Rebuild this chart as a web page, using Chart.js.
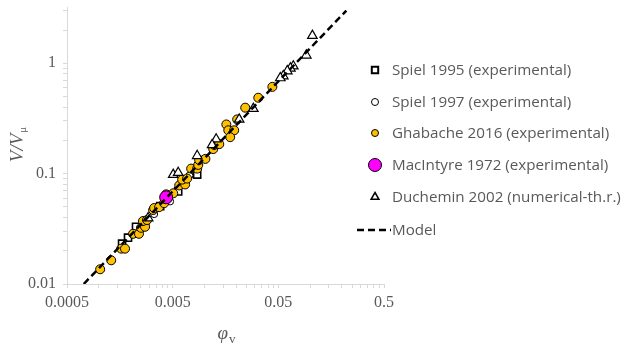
<!DOCTYPE html>
<html>
<head>
<meta charset="utf-8">
<script src="https://cdn.jsdelivr.net/npm/chart.js@4.4.1/dist/chart.umd.min.js"></script>
<style>
html, body { margin: 0; padding: 0; background: #fff; }
#wrap { width: 632px; height: 349px; position: relative; }
</style>
</head>
<body>
<div id="wrap"><canvas id="chart"></canvas></div>
<script>
"use strict";

// tick labels
var xTickLabels = [0.0005, 0.005, 0.05, 0.5];
var yTickLabels = [0.01, 0.1, 1];
var yMax = 3.2;

// Spiel 1995 (experimental)
var spiel1995Phi = [0.00166, 0.00189, 0.00225, 0.00274, 0.00381, 0.00564, 0.00853];
var spiel1995V   = [0.0232, 0.0263, 0.033, 0.0358, 0.0507, 0.069, 0.098];

// Spiel 1997 (experimental)
var spiel1997Phi = [0.00334, 0.00473, 0.0072];
var spiel1997V   = [0.043, 0.056, 0.096];

// Ghabache 2016 (experimental)
var ghabachePhi = [0.00103, 0.00131, 0.00163, 0.00177, 0.00211, 0.0024, 0.00251, 0.00274, 0.00262, 0.00286,
                   0.00327, 0.00334, 0.00372, 0.00415, 0.00434, 0.00506, 0.00577, 0.00656, 0.00615, 0.00685,
                   0.00748, 0.00853, 0.00873, 0.00891, 0.0102, 0.0121, 0.0124, 0.0138, 0.0161, 0.0168,
                   0.0191, 0.0175, 0.0204, 0.0243, 0.0323, 0.0439];
var ghabacheV   = [0.0136, 0.0164, 0.0209, 0.0209, 0.0285, 0.0285, 0.0323, 0.033, 0.0372, 0.038,
                   0.0468, 0.0488, 0.0497, 0.054, 0.0649, 0.0663, 0.0782, 0.0798, 0.0883, 0.0902,
                   0.111, 0.111, 0.12, 0.133, 0.136, 0.167, 0.182, 0.185, 0.279, 0.247,
                   0.247, 0.214, 0.31, 0.396, 0.487, 0.611];

// MacIntyre 1972 (experimental)
var macintyrePhi = [0.00434];
var macintyreV   = [0.061];

// Duchemin 2002 (numerical-th.r.)
var ducheminPhi = [0.105, 0.092, 0.0693, 0.065, 0.0608, 0.0557, 0.0522, 0.029, 0.0213, 0.0129, 0.0118,
                   0.00853, 0.00506, 0.00564, 0.00293];
var ducheminV   = [1.78, 1.18, 0.94, 0.9, 0.85, 0.766, 0.735, 0.388, 0.31, 0.205, 0.182,
                   0.145, 0.098, 0.102, 0.0396];

// Model
var modelPhi = [0.00072, 0.22];
var modelV   = [0.01, 3.0];

function toPoints(xs, ys) {
    var pts = [];
    for (var i = 0; i < xs.length; i++) {
        pts.push({ x: xs[i], y: ys[i] });
    }
    return pts;
}

function logTicks(majors, top) {
    var ticks = [];
    for (var i = 0; i < majors.length; i++) {
        var m = majors[i];
        for (var k = 1; k <= 9; k++) {
            var v = k === 1 ? m : m * k;
            if (v <= top * 1.0001) ticks.push({ value: v });
        }
    }
    return ticks;
}

var axisGray = '#d9d9d9';
var textGray = '#595959';
var serif = "'Liberation Serif', 'Times New Roman', serif";

var datasets = [
    {
        label: 'Spiel 1995 (experimental)',
        data: toPoints(spiel1995Phi, spiel1995V),
        pointStyle: 'rect', pointRadius: 5, borderWidth: 1.6,
        borderColor: '#000', backgroundColor: '#fff', order: 5
    },
    {
        label: 'Spiel 1997 (experimental)',
        data: toPoints(spiel1997Phi, spiel1997V),
        pointStyle: 'circle', pointRadius: 3.5, borderWidth: 1,
        borderColor: '#000', backgroundColor: '#fff', order: 4
    },
    {
        label: 'Ghabache 2016 (experimental)',
        data: toPoints(ghabachePhi, ghabacheV),
        pointStyle: 'circle', pointRadius: 4.5, borderWidth: 1,
        borderColor: '#000', backgroundColor: '#FFC000', order: 3
    },
    {
        label: 'MacIntyre 1972 (experimental)',
        data: toPoints(macintyrePhi, macintyreV),
        pointStyle: 'circle', pointRadius: 6.5, borderWidth: 1,
        borderColor: '#000', backgroundColor: '#FF00FF', order: 2
    },
    {
        label: 'Duchemin 2002 (numerical-th.r.)',
        data: toPoints(ducheminPhi, ducheminV),
        pointStyle: 'triangle', pointRadius: 5.5, borderWidth: 1.2,
        borderColor: '#000', backgroundColor: '#fff', order: 1
    },
    {
        label: 'Model',
        data: toPoints(modelPhi, modelV),
        showLine: true, pointRadius: 0, borderWidth: 2.5,
        borderDash: [7, 4], borderColor: '#000', backgroundColor: '#000', order: 0
    }
];

// legend drawn by hand, Excel style
function drawMarker(ctx, ds, x, y) {
    ctx.save();
    ctx.lineWidth = ds.borderWidth;
    ctx.strokeStyle = ds.borderColor;
    ctx.fillStyle = ds.backgroundColor;
    if (ds.showLine) {
        ctx.setLineDash(ds.borderDash);
        ctx.beginPath();
        ctx.moveTo(x - 18, y);
        ctx.lineTo(x + 16, y);
        ctx.stroke();
    } else if (ds.pointStyle === 'rect') {
        var s = 3.2;
        ctx.beginPath();
        ctx.rect(x - s, y - s, 2 * s, 2 * s);
        ctx.fill();
        ctx.lineWidth = 2;
        ctx.stroke();
    } else if (ds.pointStyle === 'triangle') {
        var r = 4.5;
        ctx.beginPath();
        ctx.moveTo(x, y - r);
        ctx.lineTo(x + r * 0.87, y + r * 0.5);
        ctx.lineTo(x - r * 0.87, y + r * 0.5);
        ctx.closePath();
        ctx.fill();
        ctx.lineWidth = 1.5;
        ctx.stroke();
    } else {
        var rad = ds.pointRadius === 6.5 ? 6.5 : 3.5;
        ctx.beginPath();
        ctx.arc(x, y, rad, 0, Math.PI * 2);
        ctx.fill();
        ctx.stroke();
    }
    ctx.restore();
}

var decorPlugin = {
    id: 'decor',
    afterDraw: function (chart) {
        var ctx = chart.ctx;
        var rows = [70, 102, 133, 165, 197, 230];
        ctx.save();
        ctx.font = "15.2px 'Open Sans', sans-serif";
        ctx.fillStyle = textGray;
        ctx.textBaseline = 'middle';
        chart.data.datasets.forEach(function (ds, i) {
            drawMarker(ctx, ds, 375, rows[i]);
            ctx.fillStyle = textGray;
            ctx.fillText(ds.label, 392, rows[i] + 1);
        });
        ctx.restore();

        // x axis title: phi with subscript v
        ctx.save();
        ctx.fillStyle = textGray;
        ctx.textBaseline = 'alphabetic';
        ctx.font = "italic 19px " + serif;
        var w1 = ctx.measureText('\u03C6').width;
        ctx.font = "13px " + serif;
        var w2 = ctx.measureText('v').width;
        var x0 = 226 - (w1 + w2) / 2;
        ctx.font = "italic 19px " + serif;
        ctx.fillText('\u03C6', x0, 339);
        ctx.font = "13px " + serif;
        ctx.fillText('v', x0 + w1 + 1, 343);
        ctx.restore();

        // y axis title: V/V with subscript mu
        ctx.save();
        ctx.translate(23, 145);
        ctx.rotate(-Math.PI / 2);
        ctx.fillStyle = textGray;
        ctx.textBaseline = 'alphabetic';
        ctx.font = "italic 19px " + serif;
        var t1 = ctx.measureText('V/V').width;
        ctx.font = "11px " + serif;
        var t2 = ctx.measureText('\u03BC').width;
        var s0 = -(t1 + t2) / 2;
        ctx.font = "italic 19px " + serif;
        ctx.fillText('V/V', s0, 0);
        ctx.font = "11px " + serif;
        ctx.fillText('\u03BC', s0 + t1 + 1, 3);
        ctx.restore();
    }
};

const context = document.getElementById('chart');
const myChart = new Chart(context, {
    type: 'scatter',
    data: { datasets: datasets },
    plugins: [decorPlugin],
    options: {
        responsive: true,
        maintainAspectRatio: false,
        animation: false,
        layout: { padding: { left: 0, top: 5, right: 248, bottom: 0 } },
        plugins: {
            legend: { display: false },
            tooltip: { enabled: false }
        },
        scales: {
            x: {
                type: 'logarithmic',
                min: xTickLabels[0],
                max: xTickLabels[xTickLabels.length - 1],
                afterBuildTicks: function (scale) {
                    scale.ticks = logTicks(xTickLabels.slice(0, -1), 1).concat([{ value: xTickLabels[xTickLabels.length - 1] }]);
                },
                afterFit: function (scale) {
                    scale.height = 65;
                    scale.paddingLeft = 0;
                    scale.paddingRight = 0;
                },
                grid: { drawOnChartArea: false, drawTicks: true, tickLength: 4, color: axisGray },
                border: { color: axisGray, width: 1 },
                ticks: {
                    autoSkip: false, maxRotation: 0, padding: 5,
                    color: textGray, font: { family: serif, size: 16 },
                    callback: function (value) {
                        return xTickLabels.indexOf(value) >= 0 ? String(value) : '';
                    }
                }
            },
            y: {
                type: 'logarithmic',
                min: yTickLabels[0],
                max: yMax,
                afterBuildTicks: function (scale) {
                    scale.ticks = logTicks(yTickLabels, yMax);
                },
                afterFit: function (scale) {
                    scale.width = 67;
                    scale.paddingTop = 0;
                    scale.paddingBottom = 0;
                },
                grid: { drawOnChartArea: false, drawTicks: true, tickLength: 4, color: axisGray },
                border: { color: axisGray, width: 1 },
                ticks: {
                    autoSkip: false, padding: 7,
                    color: textGray, font: { family: serif, size: 16 },
                    callback: function (value) {
                        return yTickLabels.indexOf(value) >= 0 ? String(value) : '';
                    }
                }
            }
        }
    }
});
</script>
</body>
</html>
